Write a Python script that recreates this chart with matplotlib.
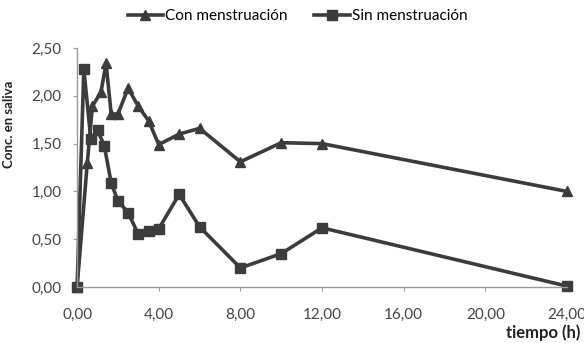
import matplotlib.pyplot as plt
from matplotlib.ticker import FuncFormatter

# data
t_con = [0, 0.5, 0.75, 1.17, 1.42, 1.67, 2, 2.5, 3, 3.5, 4, 5, 6, 8, 10, 12, 24]
c_con = [0, 1.30, 1.89, 2.04, 2.34, 1.81, 1.81, 2.08, 1.89, 1.74, 1.49, 1.60, 1.66, 1.31, 1.51, 1.50, 1.00]

t_sin = [0, 0.33, 0.67, 1, 1.33, 1.67, 2, 2.5, 3, 3.5, 4, 5, 6, 8, 10, 12, 24]
c_sin = [0, 2.28, 1.55, 1.64, 1.48, 1.09, 0.90, 0.78, 0.55, 0.59, 0.61, 0.97, 0.63, 0.20, 0.35, 0.62, 0.01]

x_ticks = [0, 4, 8, 12, 16, 20, 24]
y_ticks = [0, 0.5, 1.0, 1.5, 2.0, 2.5]

plt.rcParams['font.family'] = ['Lato', 'DejaVu Sans']

fig = plt.figure(figsize=(5.84, 3.43), dpi=100)
ax = fig.add_axes([0.132, 0.163, 0.839, 0.697])

line_col = '#3c3c3c'
ax.plot(t_con, c_con, color=line_col, lw=2.6, marker='^', ms=7, label='Con menstruación', clip_on=False)
ax.plot(t_sin, c_sin, color=line_col, lw=2.6, marker='s', ms=6.5, label='Sin menstruación', clip_on=False)

ax.set_xlim(0, 24)
ax.set_ylim(0, 2.5)
ax.set_xticks(x_ticks)
ax.set_yticks(y_ticks)
fmt = FuncFormatter(lambda v, p: f'{v:.2f}'.replace('.', ','))
ax.xaxis.set_major_formatter(fmt)
ax.yaxis.set_major_formatter(fmt)

for s in ['top', 'right']:
    ax.spines[s].set_visible(False)
for s in ['left', 'bottom']:
    ax.spines[s].set_color('#9a9a9a')
    ax.spines[s].set_linewidth(1.0)
ax.tick_params(colors='#9a9a9a', labelcolor='#444444', labelsize=11, length=3, direction='out')
ax.tick_params(axis='x', pad=12)
ax.tick_params(axis='y', pad=8)

ax.set_ylabel('Conc. en saliva', fontsize=9.5, fontweight='bold', color='#222222')
ax.yaxis.set_label_coords(-0.127, 0.68)
fig.text(0.993, 0.029, 'tiempo (h)', fontsize=12, fontweight='bold', color='#222222',
         ha='right', va='center')

ax.legend(loc='center', bbox_to_anchor=(0.45, 1.133), ncol=2, frameon=False,
          fontsize=11, handlelength=2.3, columnspacing=1.75, handletextpad=0.15)

fig.savefig('out.png', dpi=100)
